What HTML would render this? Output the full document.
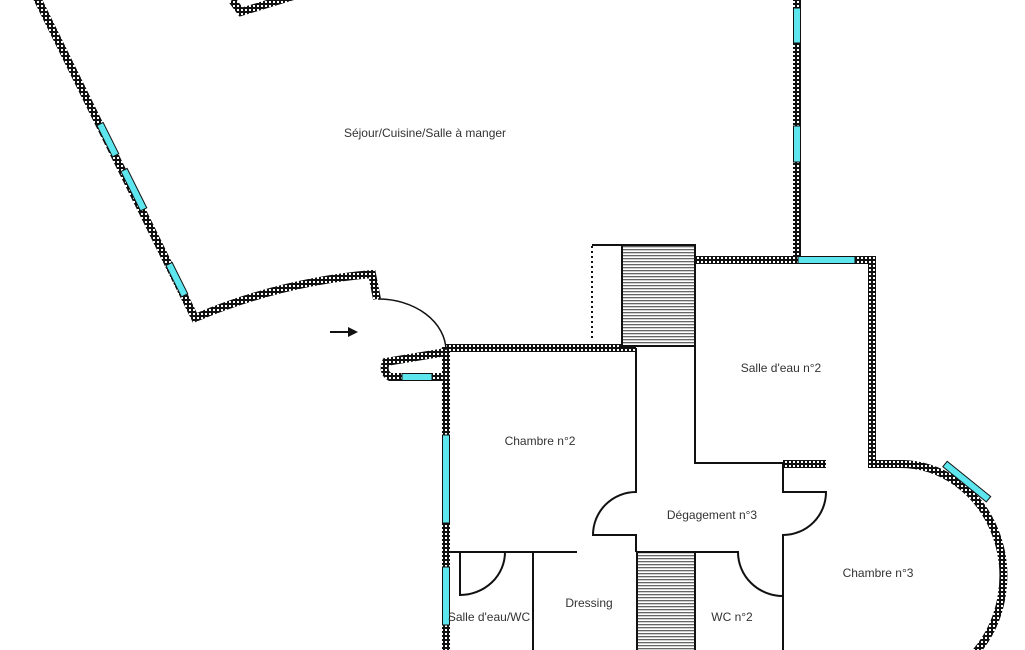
<!DOCTYPE html>
<html><head><meta charset="utf-8"><style>
html,body{margin:0;padding:0;background:#fff;width:1025px;height:650px;overflow:hidden}
svg text{font-family:"Liberation Sans",sans-serif;font-size:12px;fill:#333}
</style></head><body>
<svg width="1025" height="650" viewBox="0 0 1025 650" xmlns="http://www.w3.org/2000/svg">
<defs>
<pattern id="ck" width="4" height="4" patternUnits="userSpaceOnUse">
<rect width="4" height="4" fill="#111"/>
<rect x="1" y="1" width="2" height="2" fill="#fff"/>
</pattern>
<pattern id="hatch" width="4" height="3" patternUnits="userSpaceOnUse">
<rect width="4" height="3" fill="#fff"/>
<rect y="0" width="4" height="1.3" fill="#666"/>
</pattern>
</defs>
<g fill="none" stroke="url(#ck)" stroke-width="8" stroke-linejoin="miter">
<path d="M232,0 L241,12 L300,-6"/>
<path d="M37,-2 L195,318 Q280,282 372,274 L377,299"/>
<path d="M446,352 L386,362 Q382,372 390,377 L446,377"/>
<path d="M446,347 L446,652"/>
<path d="M446,348 L636,348"/>
<path d="M797,-2 L797,260"/>
<path d="M695,260 L872,260 L872,464 L905,464"/>
<path d="M783,464 L826,464"/>
<path d="M900,464 A103,112 0 0 1 976,652"/>
</g>
<g stroke="#111" stroke-width="1" fill="#5ee6ee">
<rect x="793.5" y="8" width="7" height="35"/>
<rect x="793.5" y="126" width="7" height="36"/>
<rect x="798" y="256.5" width="57" height="7"/>
<rect x="442.5" y="435" width="7" height="88"/>
<rect x="442.5" y="567" width="7" height="58"/>
<rect x="402" y="373.5" width="30" height="7"/>
<g transform="translate(100,124) rotate(63.5)"><rect x="0" y="-3.5" width="35" height="7"/></g>
<g transform="translate(124,170) rotate(63.5)"><rect x="0" y="-3.5" width="44" height="7"/></g>
<g transform="translate(169,264) rotate(63.5)"><rect x="0" y="-3.5" width="35" height="7"/></g>
<g transform="translate(945,464) rotate(39)"><rect x="0" y="-3.5" width="56" height="7"/></g>
</g>
<rect x="622" y="245" width="73" height="101" fill="url(#hatch)" stroke="#111" stroke-width="2"/>
<rect x="637" y="552" width="58" height="100" fill="url(#hatch)" stroke="#111" stroke-width="2"/>
<g fill="none" stroke="#111" stroke-width="2">
<path d="M592,245 L622,245"/>
<path d="M592,246 L592,340" stroke-dasharray="2,3"/>
<path d="M695,260 L695,463 L783,463 L783,492 L826,492 A43,43 0 0 1 783,535 L783,650"/>
<path d="M636,348 L636,492 A43,43 0 0 0 593,535 L636,535 L636,552"/>
<path d="M695,552 L738,552 A45,44 0 0 0 783,596"/>
<path d="M446,552 L577,552"/>
<path d="M460,552 L460,595 A45,43 0 0 0 505,552"/>
<path d="M533,552 L533,650"/>
<path d="M378,299 A68,52 0 0 1 446,350" stroke-width="1.5"/>
<path d="M330,332 L350,332"/>
</g>
<path d="M358,332 L348,327 L348,337 Z" fill="#111"/>
<text x="425" y="137" text-anchor="middle">Séjour/Cuisine/Salle à manger</text>
<text x="540" y="445" text-anchor="middle">Chambre n°2</text>
<text x="781" y="372" text-anchor="middle">Salle d'eau n°2</text>
<text x="712" y="519" text-anchor="middle">Dégagement n°3</text>
<text x="878" y="577" text-anchor="middle">Chambre n°3</text>
<text x="589" y="607" text-anchor="middle">Dressing</text>
<text x="732" y="621" text-anchor="middle">WC n°2</text>
<text x="489" y="621" text-anchor="middle">Salle d'eau/WC</text>
</svg>
</body></html>
